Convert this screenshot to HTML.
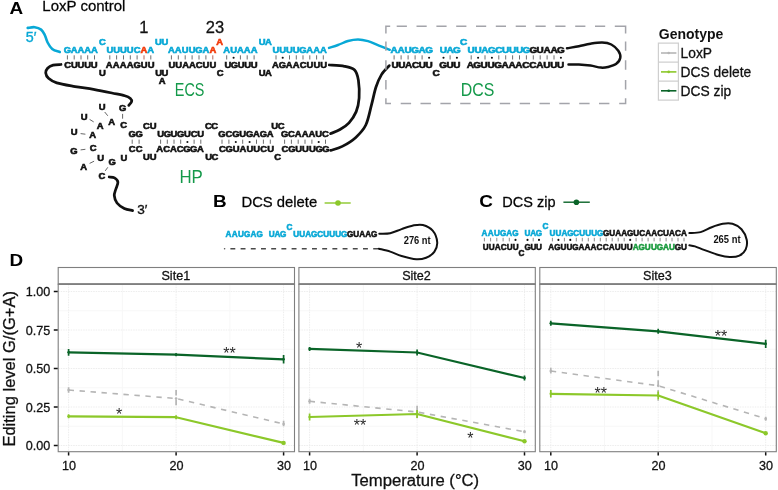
<!DOCTYPE html>
<html lang="en"><head><meta charset="utf-8"><title>LoxP control / DCS editing</title>
<style>
html,body{margin:0;padding:0;background:#fff}
body{width:778px;height:490px;overflow:hidden}
svg{display:block}
text{font-family:"Liberation Sans",Arial,Helvetica,sans-serif}
.k{stroke:#111;stroke-width:.28px}
.s{font-weight:bold;text-anchor:middle}
.b{font-weight:bold}
</style></head><body>
<svg width="778" height="490" viewBox="0 0 778 490">
<rect width="778" height="490" fill="#fff"/>
<text class="b" transform="translate(9.5 14.2) scale(1.1 1)" font-size="17.2">A</text>
<text class="k" x="42.3" y="11.1" font-size="15">LoxP control</text>
<text class="b" transform="translate(213 207.2) scale(1.1 1)" font-size="17.2">B</text>
<text class="k" x="241.5" y="207.2" font-size="14.8">DCS delete</text>
<text class="b" transform="translate(479.3 207.2) scale(1.1 1)" font-size="17.2">C</text>
<text class="k" x="502.3" y="207.2" font-size="14.5">DCS zip</text>
<text class="b" transform="translate(9.5 266.3) scale(1.1 1)" font-size="17.2">D</text>
<text class="k" x="139.2" y="32.6" font-size="16.5" fill="#111">1</text>
<text class="k" x="205.8" y="32.6" font-size="16.5" fill="#111">23</text>
<text x="25.8" y="41.7" font-size="14.3" fill="#08a8d6" stroke="#08a8d6" stroke-width="0.35">5′</text>
<text class="s" transform="scale(1.130 1)" font-size="8.37" fill="#08a8d6" stroke="#08a8d6" stroke-width="0.55" y="52.8" x="59.64 65.64 71.64 77.64 83.64">GAAAA</text>
<path d="M67.4 55.3V59.5M74.2 55.3V59.5M81.0 55.3V59.5M87.7 55.3V59.5M94.5 55.3V59.5" stroke="#6e6e6e" stroke-width="1.0"/>
<text class="s" transform="scale(1.130 1)" font-size="8.37" fill="#111" stroke="#111" stroke-width="0.55" y="68.0" x="59.93 65.81 71.68 77.56 83.43">CUUUU</text>
<text class="s" transform="scale(1.130 1)" font-size="8.37" fill="#08a8d6" stroke="#08a8d6" stroke-width="0.55" y="45.1" x="90.58">C</text>
<text class="s" transform="scale(1.130 1)" font-size="8.37" fill="#111" stroke="#111" stroke-width="0.55" y="75.9" x="90.75">U</text>
<text class="s" transform="scale(1.130 1)" font-size="8.37" stroke-width="0.55" y="52.8"><tspan fill="#08a8d6" stroke="#08a8d6" x="97.18 103.22 109.27 115.31 121.35">UUUUC</tspan><tspan fill="#f23a0a" stroke="#f23a0a" x="127.40">A</tspan><tspan fill="#08a8d6" stroke="#08a8d6" x="133.44">A</tspan></text>
<path d="M144.0 55.3V59.5" stroke="#b5665a" stroke-width="1.0"/>
<path d="M109.8 55.3V59.5M116.6 55.3V59.5M123.5 55.3V59.5M130.3 55.3V59.5M137.1 55.3V59.5M150.8 55.3V59.5" stroke="#6e6e6e" stroke-width="1.0"/>
<text class="s" transform="scale(1.130 1)" font-size="8.37" fill="#111" stroke="#111" stroke-width="0.55" y="68.0" x="96.71 102.88 109.05 115.22 121.39 127.56 133.73">AAAAGUU</text>
<text class="s" transform="scale(1.130 1)" font-size="8.37" fill="#08a8d6" stroke="#08a8d6" stroke-width="0.55" y="45.1" x="140.22 145.97">UU</text>
<text class="s" transform="scale(1.130 1)" font-size="8.37" fill="#111" stroke="#111" stroke-width="0.55" y="75.9" x="140.35 146.02">UU</text>
<text class="s" transform="scale(1.130 1)" font-size="8.37" fill="#111" stroke="#111" stroke-width="0.55" y="83.8" x="143.58">A</text>
<text class="s" transform="scale(1.130 1)" font-size="8.37" stroke-width="0.55" y="52.8"><tspan fill="#08a8d6" stroke="#08a8d6" x="151.64 157.76 163.88 170.00 176.12 182.24">AAUUGA</tspan><tspan fill="#f23a0a" stroke="#f23a0a" x="188.36">A</tspan></text>
<path d="M212.8 55.3V59.5" stroke="#b5665a" stroke-width="1.0"/>
<path d="M171.4 55.3V59.5M178.3 55.3V59.5M185.2 55.3V59.5M192.1 55.3V59.5M199.0 55.3V59.5M205.9 55.3V59.5" stroke="#6e6e6e" stroke-width="1.0"/>
<text class="s" transform="scale(1.130 1)" font-size="8.37" fill="#111" stroke="#111" stroke-width="0.55" y="68.0" x="152.21 158.23 164.25 170.27 176.28 182.30 188.32">UUAACUU</text>
<text class="s" transform="scale(1.130 1)" font-size="8.37" fill="#f23a0a" stroke="#f23a0a" stroke-width="0.55" y="44.7" x="194.38">A</text>
<text class="s" transform="scale(1.130 1)" font-size="8.37" fill="#111" stroke="#111" stroke-width="0.55" y="75.9" x="194.87">C</text>
<text class="s" transform="scale(1.130 1)" font-size="8.37" fill="#08a8d6" stroke="#08a8d6" stroke-width="0.55" y="52.8" x="200.64 206.69 212.74 218.80 224.85">AUAAA</text>
<circle cx="233.6" cy="57.7" r="1.05" fill="#111"/>
<path d="M226.7 55.3V59.5M240.4 55.3V59.5M247.2 55.3V59.5M254.1 55.3V59.5" stroke="#6e6e6e" stroke-width="1.0"/>
<text class="s" transform="scale(1.130 1)" font-size="8.37" fill="#111" stroke="#111" stroke-width="0.55" y="68.0" x="201.75 207.56 213.36 219.17 224.97">UGUUU</text>
<text class="s" transform="scale(1.130 1)" font-size="8.37" fill="#08a8d6" stroke="#08a8d6" stroke-width="0.55" y="45.1" x="231.90 237.48">UA</text>
<text class="s" transform="scale(1.130 1)" font-size="8.37" fill="#111" stroke="#111" stroke-width="0.55" y="75.9" x="231.90 237.48">UA</text>
<text class="s" transform="scale(1.130 1)" font-size="8.37" fill="#08a8d6" stroke="#08a8d6" stroke-width="0.55" y="52.8" x="244.23 250.22 256.20 262.18 268.17 274.15 280.14 286.12">UUUUGAAA</text>
<circle cx="282.7" cy="57.7" r="1.05" fill="#111"/>
<path d="M276.0 55.3V59.5M289.5 55.3V59.5M296.3 55.3V59.5M303.0 55.3V59.5M309.8 55.3V59.5M316.6 55.3V59.5M323.3 55.3V59.5" stroke="#6e6e6e" stroke-width="1.0"/>
<text class="s" transform="scale(1.130 1)" font-size="8.37" fill="#111" stroke="#111" stroke-width="0.55" y="68.0" x="243.76 249.87 255.97 262.08 268.19 274.29 280.40 286.50">AGAACUUU</text>
<text x="174.8" y="95.8" font-size="17.8" fill="#14994a" textLength="29.6" lengthAdjust="spacingAndGlyphs">ECS</text>
<path d="M27.7 27.9C28.9 27.8 32.5 26.9 34.7 27.2C36.9 27.5 39.4 28.3 41.1 29.6C42.8 30.9 43.7 33.0 44.8 35.1C45.9 37.2 46.4 40.2 47.6 42.5C48.8 44.8 50.2 47.3 52.2 48.9C54.2 50.5 58.5 51.5 59.8 52.0" fill="none" stroke="#08a8d6" stroke-width="2.60" stroke-linecap="round" stroke-linejoin="round"/>
<path d="M329.0 47.9C330.5 47.4 334.8 46.1 338.0 45.0C341.2 43.9 344.7 41.9 348.0 41.0C351.3 40.1 354.7 39.5 358.0 39.5C361.3 39.5 364.5 40.2 368.0 41.2C371.5 42.2 375.4 44.2 379.0 45.6C382.6 47.0 388.0 49.1 389.8 49.8" fill="none" stroke="#08a8d6" stroke-width="2.40" stroke-linecap="round" stroke-linejoin="round"/>
<path d="M61.0 64.5C59.7 64.6 55.3 64.5 53.1 65.1C50.9 65.7 48.8 66.9 47.6 68.2C46.4 69.5 45.6 71.1 45.7 72.8C45.9 74.5 46.6 76.6 48.5 78.3C50.4 80.0 52.4 81.5 56.8 82.9C61.2 84.3 69.0 85.5 75.1 86.6C81.2 87.7 87.4 88.2 93.5 89.3C99.6 90.4 106.7 91.9 111.9 93.0C117.1 94.1 121.7 94.9 124.8 95.8C127.9 96.7 129.3 97.6 130.4 98.6C131.5 99.6 131.9 100.5 131.6 101.6C131.3 102.7 129.3 104.8 128.8 105.4" fill="none" stroke="#111" stroke-width="2.75" stroke-linecap="round" stroke-linejoin="round"/>
<path d="M329.3 65.0C331.8 65.2 340.3 65.5 344.5 66.3C348.7 67.1 352.3 67.7 354.6 70.0C356.9 72.3 357.6 75.5 358.4 80.2C359.1 84.9 359.5 92.9 359.1 98.1C358.7 103.3 357.9 107.5 356.2 111.6C354.5 115.7 351.7 119.8 349.0 122.8C346.3 125.8 343.1 127.7 340.0 129.5C336.9 131.3 332.2 132.9 330.6 133.6" fill="none" stroke="#111" stroke-width="2.75" stroke-linecap="round" stroke-linejoin="round"/>
<path d="M389.3 65.6C388.0 67.1 383.7 71.0 381.5 74.6C379.3 78.2 377.7 82.0 376.0 87.0C374.3 92.0 373.2 98.6 371.5 104.9C369.8 111.2 368.4 119.6 365.8 125.0C363.2 130.4 359.7 133.8 355.8 137.4C351.9 141.0 346.5 144.2 342.3 146.4C338.1 148.6 332.6 149.7 330.6 150.4" fill="none" stroke="#111" stroke-width="2.75" stroke-linecap="round" stroke-linejoin="round"/>
<text class="s" transform="scale(1.130 1)" font-size="8.37" fill="#111" stroke="#111" stroke-width="0.55" y="137.3" x="117.01 123.08">GG</text>
<path d="M132.2 139.6V143.8M139.1 139.6V143.8" stroke="#6e6e6e" stroke-width="1.0"/>
<text class="s" transform="scale(1.130 1)" font-size="8.37" fill="#111" stroke="#111" stroke-width="0.55" y="152.4" x="117.01 123.08">CC</text>
<text class="s" transform="scale(1.130 1)" font-size="8.37" fill="#111" stroke="#111" stroke-width="0.55" y="129.3" x="129.49 135.55">CU</text>
<text class="s" transform="scale(1.130 1)" font-size="8.37" fill="#111" stroke="#111" stroke-width="0.55" y="160.3" x="129.69 135.44">UU</text>
<text class="s" transform="scale(1.130 1)" font-size="8.37" fill="#111" stroke="#111" stroke-width="0.55" y="137.3" x="142.16 148.08 153.99 159.91 165.83 171.74 177.66">UGUGUCU</text>
<circle cx="187.4" cy="142.0" r="1.05" fill="#111"/>
<path d="M160.6 139.6V143.8M167.3 139.6V143.8M174.0 139.6V143.8M180.7 139.6V143.8M194.1 139.6V143.8M200.8 139.6V143.8" stroke="#6e6e6e" stroke-width="1.0"/>
<text class="s" transform="scale(1.130 1)" font-size="8.37" fill="#111" stroke="#111" stroke-width="0.55" y="152.4" x="141.40 147.40 153.39 159.38 165.37 171.37 177.36">ACACGGA</text>
<text class="s" transform="scale(1.130 1)" font-size="8.37" fill="#111" stroke="#111" stroke-width="0.55" y="129.3" x="184.40 190.02">CC</text>
<text class="s" transform="scale(1.130 1)" font-size="8.37" fill="#111" stroke="#111" stroke-width="0.55" y="160.3" x="184.67 190.11">UC</text>
<text class="s" transform="scale(1.130 1)" font-size="8.37" fill="#111" stroke="#111" stroke-width="0.55" y="137.3" x="196.50 202.59 208.69 214.78 220.88 226.97 233.07 239.16">GCGUGAGA</text>
<circle cx="235.8" cy="142.0" r="1.05" fill="#111"/>
<circle cx="249.6" cy="142.0" r="1.05" fill="#111"/>
<path d="M222.0 139.6V143.8M228.9 139.6V143.8M242.7 139.6V143.8M256.5 139.6V143.8M263.4 139.6V143.8M270.3 139.6V143.8" stroke="#6e6e6e" stroke-width="1.0"/>
<text class="s" transform="scale(1.130 1)" font-size="8.37" fill="#111" stroke="#111" stroke-width="0.55" y="152.4" x="196.76 202.86 208.95 215.05 221.14 227.24 233.34 239.43">CGUAUUCU</text>
<text class="s" transform="scale(1.130 1)" font-size="8.37" fill="#111" stroke="#111" stroke-width="0.55" y="129.3" x="242.99 248.78">UC</text>
<text class="s" transform="scale(1.130 1)" font-size="8.37" fill="#111" stroke="#111" stroke-width="0.55" y="160.3" x="245.75">C</text>
<text class="s" transform="scale(1.130 1)" font-size="8.37" fill="#111" stroke="#111" stroke-width="0.55" y="137.3" x="251.86 257.90 263.93 269.96 275.99 282.02 288.05">GCAAAUC</text>
<circle cx="318.7" cy="142.0" r="1.05" fill="#111"/>
<path d="M284.6 139.6V143.8M291.4 139.6V143.8M298.2 139.6V143.8M305.0 139.6V143.8M311.9 139.6V143.8M325.5 139.6V143.8" stroke="#6e6e6e" stroke-width="1.0"/>
<text class="s" transform="scale(1.130 1)" font-size="8.37" fill="#111" stroke="#111" stroke-width="0.55" y="152.4" x="252.23 258.27 264.31 270.35 276.40 282.44 288.48">CGUUUGG</text>
<text class="s" transform="scale(1.130 1)" font-size="8.37" fill="#111" stroke="#111" stroke-width="0.55" y="110.1" x="90.44">U</text>
<text class="s" transform="scale(1.130 1)" font-size="8.37" fill="#111" stroke="#111" stroke-width="0.55" y="110.6" x="108.50">G</text>
<text class="s" transform="scale(1.130 1)" font-size="8.37" fill="#111" stroke="#111" stroke-width="0.55" y="119.7" x="74.51">U</text>
<text class="s" transform="scale(1.130 1)" font-size="8.37" fill="#111" stroke="#111" stroke-width="0.55" y="128.6" x="88.58">A</text>
<text class="s" transform="scale(1.130 1)" font-size="8.37" fill="#111" stroke="#111" stroke-width="0.55" y="124.7" x="98.76">A</text>
<text class="s" transform="scale(1.130 1)" font-size="8.37" fill="#111" stroke="#111" stroke-width="0.55" y="128.5" x="109.38">C</text>
<text class="s" transform="scale(1.130 1)" font-size="8.37" fill="#111" stroke="#111" stroke-width="0.55" y="135.5" x="65.75">U</text>
<text class="s" transform="scale(1.130 1)" font-size="8.37" fill="#111" stroke="#111" stroke-width="0.55" y="138.2" x="82.12">A</text>
<text class="s" transform="scale(1.130 1)" font-size="8.37" fill="#111" stroke="#111" stroke-width="0.55" y="154.2" x="65.49">G</text>
<text class="s" transform="scale(1.130 1)" font-size="8.37" fill="#111" stroke="#111" stroke-width="0.55" y="151.4" x="82.57">C</text>
<text class="s" transform="scale(1.130 1)" font-size="8.37" fill="#111" stroke="#111" stroke-width="0.55" y="161.5" x="89.03">U</text>
<text class="s" transform="scale(1.130 1)" font-size="8.37" fill="#111" stroke="#111" stroke-width="0.55" y="170.3" x="74.07">A</text>
<text class="s" transform="scale(1.130 1)" font-size="8.37" fill="#111" stroke="#111" stroke-width="0.55" y="165.4" x="99.29">G</text>
<text class="s" transform="scale(1.130 1)" font-size="8.37" fill="#111" stroke="#111" stroke-width="0.55" y="161.5" x="109.56">U</text>
<text class="s" transform="scale(1.130 1)" font-size="8.37" fill="#111" stroke="#111" stroke-width="0.55" y="178.8" x="90.27">C</text>
<path d="M104.7 112L107.8 115.8M122.6 113.9V118.7M89.6 119.4L93.7 121.9M80.6 133.6L85.4 134.2M80.6 149.9L85.4 149.3M89.6 163.4L94.1 161.2M105.2 170.9L107.8 167.3" stroke="#555" stroke-width="0.9" fill="none"/>
<path d="M109.2 177.0C110.1 177.2 113.0 177.0 114.5 177.9C116.0 178.8 117.7 180.3 117.9 182.2C118.1 184.1 116.3 187.3 115.7 189.5C115.1 191.7 114.1 193.3 114.3 195.6C114.5 197.8 115.3 200.8 117.0 203.0C118.7 205.2 121.7 207.2 124.3 208.5C126.9 209.8 131.2 210.2 132.6 210.6" fill="none" stroke="#111" stroke-width="2.75" stroke-linecap="round" stroke-linejoin="round"/>
<text x="137.3" y="213.9" font-size="13.6" fill="#111" stroke="#111" stroke-width="0.35">3′</text>
<text x="179.4" y="183.2" font-size="17.8" fill="#14994a" textLength="23.4" lengthAdjust="spacingAndGlyphs">HP</text>
<text class="s" transform="scale(1.130 1)" font-size="8.84" fill="#08a8d6" stroke="#08a8d6" stroke-width="0.58" y="53.2" x="348.76 354.96 361.15 367.35 373.54 379.73">AAUGAG</text>
<circle cx="429.1" cy="57.7" r="1.05" fill="#111"/>
<path d="M394.1 55.3V59.5M401.1 55.3V59.5M408.1 55.3V59.5M415.1 55.3V59.5M422.1 55.3V59.5" stroke="#6e6e6e" stroke-width="1.0"/>
<text class="s" transform="scale(1.130 1)" font-size="8.84" fill="#111" stroke="#111" stroke-width="0.58" y="68.3" x="349.57 355.62 361.67 367.71 373.76 379.81">UUACUU</text>
<text class="s" transform="scale(1.130 1)" font-size="8.84" fill="#111" stroke="#111" stroke-width="0.58" y="76.0" x="386.02">C</text>
<text class="s" transform="scale(1.130 1)" font-size="8.84" fill="#08a8d6" stroke="#08a8d6" stroke-width="0.58" y="53.2" x="392.43 398.36 404.29">UAG</text>
<circle cx="443.5" cy="57.7" r="1.05" fill="#111"/>
<circle cx="456.9" cy="57.7" r="1.05" fill="#111"/>
<path d="M450.1 55.3V59.5" stroke="#6e6e6e" stroke-width="1.0"/>
<text class="s" transform="scale(1.130 1)" font-size="8.84" fill="#111" stroke="#111" stroke-width="0.58" y="68.3" x="392.21 398.23 404.25">GUU</text>
<text class="s" transform="scale(1.130 1)" font-size="8.84" fill="#08a8d6" stroke="#08a8d6" stroke-width="0.58" y="45.4" x="410.35">C</text>
<text class="s" transform="scale(1.130 1)" font-size="8.84" stroke-width="0.58" y="53.2"><tspan fill="#08a8d6" stroke="#08a8d6" x="416.95 423.06 429.18 435.29 441.40 447.51 453.63 459.74 465.85">UUAGCUUUG</tspan><tspan fill="#111" stroke="#111" x="471.96 478.08 484.19 490.30 496.41">GUAAG</tspan></text>
<circle cx="478.1" cy="57.7" r="1.05" fill="#111"/>
<circle cx="491.9" cy="57.7" r="1.05" fill="#111"/>
<circle cx="560.9" cy="57.7" r="1.05" fill="#111"/>
<path d="M471.2 55.3V59.5M485.0 55.3V59.5M498.8 55.3V59.5M505.7 55.3V59.5M512.6 55.3V59.5M519.5 55.3V59.5M526.4 55.3V59.5M533.3 55.3V59.5M540.2 55.3V59.5M547.1 55.3V59.5M554.0 55.3V59.5" stroke="#6e6e6e" stroke-width="1.0"/>
<text class="s" transform="scale(1.130 1)" font-size="8.84" fill="#111" stroke="#111" stroke-width="0.58" y="68.3" x="416.18 422.33 428.49 434.65 440.80 446.96 453.12 459.27 465.43 471.59 477.74 483.90 490.06 496.21">AGUUGAAACCAUUU</text>
<text x="460.8" y="95.8" font-size="17.8" fill="#14994a" textLength="33.6" lengthAdjust="spacingAndGlyphs">DCS</text>
<path d="M567.0 48.3C569.0 47.9 575.0 47.0 578.9 46.2C582.8 45.4 586.6 44.3 590.5 43.7C594.4 43.1 598.6 42.4 602.1 42.5C605.6 42.6 608.6 43.1 611.3 44.5C614.0 45.9 616.8 48.6 618.3 50.8C619.8 53.0 620.7 55.6 620.3 57.8C619.9 60.0 618.1 62.6 616.0 64.1C613.9 65.6 610.4 66.4 607.9 67.0C605.4 67.6 603.8 67.8 600.9 67.6C598.0 67.4 594.2 66.1 590.5 65.6C586.8 65.1 582.6 64.7 578.9 64.5C575.2 64.3 570.2 64.5 568.5 64.5" fill="none" stroke="#111" stroke-width="2.50" stroke-linecap="round" stroke-linejoin="round"/>
<path d="M396.7 26.2H406.9M400.7 103.6H411.1M416.5 26.2H426.7M420.5 103.6H430.9M436.4 26.2H446.6M440.4 103.6H450.8M456.2 26.2H466.4M460.2 103.6H470.6M476.0 26.2H486.2M480.0 103.6H490.4M495.8 26.2H506.0M499.8 103.6H510.2M515.7 26.2H525.9M519.7 103.6H530.1M535.5 26.2H545.7M539.5 103.6H549.9M555.3 26.2H565.5M559.3 103.6H569.7M575.2 26.2H585.4M579.2 103.6H589.6M595.0 26.2H605.2M599.0 103.6H609.4M385.9 33.4V26.2H390.2M614.8 26.2H625.6V33.4M385.9 98.3V103.6H391M619.2 103.6H625.6V98.3M385.9 41.5V50.7M625.6 41.5V50.7M385.9 60.3V69.7M625.6 60.3V69.7M385.9 79.9V89.5M625.6 79.9V89.5" fill="none" stroke="#a3a4aa" stroke-width="1.5"/>
<path d="M324.6 203H350.7" stroke="#8cc82a" stroke-width="1.4"/><circle cx="338" cy="203" r="2.8" fill="#8cc82a"/>
<text class="s" transform="scale(1.000 1)" font-size="8.18" fill="#08a8d6" stroke="#08a8d6" stroke-width="0.54" y="237.3" x="228.51 234.72 240.94 247.16 253.38 259.59">AAUGAG</text>
<text class="s" transform="scale(1.000 1)" font-size="8.18" fill="#08a8d6" stroke="#08a8d6" stroke-width="0.54" y="237.3" x="271.58 277.35 283.12">UAG</text>
<text class="s" transform="scale(1.000 1)" font-size="8.18" fill="#08a8d6" stroke="#08a8d6" stroke-width="0.54" y="230.0" x="289.35">C</text>
<text class="s" transform="scale(1.000 1)" font-size="8.18" stroke-width="0.54" y="237.3"><tspan fill="#08a8d6" stroke="#08a8d6" x="296.20 302.20 308.20 314.20 320.20 326.20 332.20 338.20 344.20">UUAGCUUUG</tspan><tspan fill="#111" stroke="#111" x="350.20 356.20 362.20 368.20 374.20">GUAAG</tspan></text>
<circle cx="224.6" cy="248.7" r="0.8" fill="#555"/>
<path d="M230.4 248.7H378.5" stroke="#4a4a4a" stroke-width="1.6" stroke-dasharray="4.9 5.3"/>
<path d="M379.3 233.7C381.1 233.6 386.5 234.0 390.2 233.2C393.9 232.4 397.8 230.4 401.6 229.1C405.4 227.8 409.6 226.2 413.1 225.5C416.7 224.8 419.6 224.1 422.9 225.0C426.2 225.9 430.3 227.8 432.7 230.7C435.1 233.5 436.9 238.6 437.2 242.1C437.5 245.6 436.1 249.3 434.3 251.9C432.5 254.5 429.1 256.5 426.1 257.7C423.1 258.9 420.4 259.6 416.3 259.3C412.2 259.0 406.0 257.3 401.6 256.0C397.2 254.7 394.0 252.8 390.2 251.6C386.4 250.4 380.7 249.2 378.8 248.7" fill="none" stroke="#111" stroke-width="2.00" stroke-linecap="round" stroke-linejoin="round"/>
<text class="b" x="403.7" y="244.2" font-size="10.6" fill="#111" textLength="27" lengthAdjust="spacingAndGlyphs">276 nt</text>
<path d="M563.4 202.2H589.8" stroke="#0a6428" stroke-width="1.4"/><circle cx="576.4" cy="202.2" r="2.8" fill="#0a6428"/>
<text class="s" transform="scale(1.000 1)" font-size="8.18" fill="#08a8d6" stroke="#08a8d6" stroke-width="0.54" y="236.2" x="484.41 490.62 496.84 503.06 509.28 515.49">AAUGAG</text>
<circle cx="515.5" cy="239.9" r="1.05" fill="#111"/>
<path d="M484.4 237.8V241.4M490.6 237.8V241.4M496.8 237.8V241.4M503.1 237.8V241.4M509.3 237.8V241.4" stroke="#6e6e6e" stroke-width="0.8"/>
<text class="s" transform="scale(1.000 1)" font-size="8.18" fill="#111" stroke="#111" stroke-width="0.54" y="249.6" x="485.60 491.60 497.60 503.60 509.60 515.60">UUACUU</text>
<text class="s" transform="scale(1.000 1)" font-size="8.18" fill="#111" stroke="#111" stroke-width="0.54" y="256.1" x="521.50">C</text>
<text class="s" transform="scale(1.000 1)" font-size="8.18" fill="#08a8d6" stroke="#08a8d6" stroke-width="0.54" y="236.2" x="527.48 533.25 539.02">UAG</text>
<circle cx="527.5" cy="239.9" r="1.05" fill="#111"/>
<circle cx="539.0" cy="239.9" r="1.05" fill="#111"/>
<path d="M533.2 237.8V241.4" stroke="#6e6e6e" stroke-width="0.8"/>
<text class="s" transform="scale(1.000 1)" font-size="8.18" fill="#111" stroke="#111" stroke-width="0.54" y="249.6" x="527.73 533.40 539.07">GUU</text>
<text class="s" transform="scale(1.000 1)" font-size="8.18" fill="#08a8d6" stroke="#08a8d6" stroke-width="0.54" y="229.0" x="545.50">C</text>
<text class="s" transform="scale(1.000 1)" font-size="8.18" stroke-width="0.54" y="236.2"><tspan fill="#08a8d6" stroke="#08a8d6" x="552.39 558.37 564.36 570.34 576.32 582.30 588.29 594.27 600.25">UUAGCUUUG</tspan><tspan fill="#111" stroke="#111" x="606.23 612.22 618.20 624.18 630.17 636.15 642.13 648.11 654.10 660.08 666.06 672.04 678.03 684.01">GUAAGUCAACUACA</tspan></text>
<circle cx="558.4" cy="239.9" r="1.05" fill="#111"/>
<circle cx="570.3" cy="239.9" r="1.05" fill="#111"/>
<circle cx="630.2" cy="239.9" r="1.05" fill="#111"/>
<path d="M552.4 237.8V241.4M564.4 237.8V241.4M576.3 237.8V241.4M582.3 237.8V241.4M588.3 237.8V241.4M594.3 237.8V241.4M600.3 237.8V241.4M606.2 237.8V241.4M612.2 237.8V241.4M618.2 237.8V241.4M624.2 237.8V241.4M636.1 237.8V241.4M642.1 237.8V241.4M648.1 237.8V241.4M654.1 237.8V241.4M660.1 237.8V241.4M666.1 237.8V241.4M672.0 237.8V241.4M678.0 237.8V241.4M684.0 237.8V241.4" stroke="#6e6e6e" stroke-width="0.8"/>
<text class="s" transform="scale(1.000 1)" font-size="8.18" stroke-width="0.54" y="249.6"><tspan fill="#111" stroke="#111" x="551.32 557.35 563.38 569.41 575.44 581.47 587.50 593.53 599.56 605.59 611.62 617.65 623.68 629.71">AGUUGAAACCAUUU</tspan><tspan fill="#1a9a3e" stroke="#1a9a3e" x="635.74 641.77 647.80 653.83 659.86 665.89 671.92">AGUUGAU</tspan><tspan fill="#111" stroke="#111" x="677.95 683.98">GU</tspan></text>
<path d="M689.4 233.1C691.3 232.9 696.9 233.1 700.6 232.1C704.3 231.1 708.0 228.6 711.7 227.2C715.4 225.8 719.3 224.4 722.8 223.8C726.3 223.2 729.4 222.9 732.5 223.8C735.6 224.7 739.1 226.7 741.5 229.3C743.9 232.0 746.0 236.3 746.7 239.7C747.4 243.0 746.9 246.7 745.7 249.4C744.5 252.1 742.1 254.4 739.4 255.7C736.7 257.0 733.2 257.2 729.7 257.1C726.2 257.0 722.8 256.2 718.6 255.0C714.4 253.8 708.6 251.5 704.7 250.1C700.8 248.7 697.5 247.2 695.0 246.4C692.5 245.6 690.3 245.5 689.4 245.3" fill="none" stroke="#111" stroke-width="2.00" stroke-linecap="round" stroke-linejoin="round"/>
<text class="b" x="713.4" y="242.9" font-size="10.6" fill="#111" textLength="27.2" lengthAdjust="spacingAndGlyphs">265 nt</text>
<text class="b" x="658.8" y="38.8" font-size="14" fill="#111">Genotype</text>
<path d="M658.4 43.2H678.4V100.2H658.4ZM658.4 62.2H678.4M658.4 81.2H678.4" fill="#fff" stroke="#cfcfcf" stroke-width="1.2"/>
<path d="M661 53.0H676.4" stroke="#b5b5b5" stroke-width="1.6"/><circle cx="668.7" cy="53.0" r="1.3" fill="#b5b5b5"/>
<text class="k" x="680.6" y="57.9" font-size="13.8" fill="#111">LoxP</text>
<path d="M661 71.9H676.4" stroke="#8cc82a" stroke-width="1.6"/><circle cx="668.7" cy="71.9" r="1.3" fill="#8cc82a"/>
<text class="k" x="680.6" y="76.8" font-size="13.8" fill="#111">DCS delete</text>
<path d="M661 90.8H676.4" stroke="#0a6428" stroke-width="1.6"/><circle cx="668.7" cy="90.8" r="1.3" fill="#0a6428"/>
<text class="k" x="680.6" y="95.7" font-size="13.8" fill="#111">DCS zip</text>
<rect x="58.2" y="284.2" width="236.3" height="167.5" fill="#fff"/>
<path d="M58.2 426.2H294.5M58.2 387.8H294.5M58.2 349.2H294.5M58.2 310.8H294.5M122.3 284.2V451.7M229.9 284.2V451.7" stroke="#f7f7f7" stroke-width="1"/>
<path d="M58.2 445.5H294.5M58.2 407.0H294.5M58.2 368.5H294.5M58.2 330.0H294.5M58.2 291.5H294.5M68.6 284.2V451.7M176.1 284.2V451.7M283.6 284.2V451.7" stroke="#ededed" stroke-width="1" stroke-dasharray="1.5 1"/>
<path d="M68.6 390.0L176.1 398.5L283.6 424.0" fill="none" stroke="#b5b5b5" stroke-width="1.6" stroke-dasharray="5.4 5.6" stroke-linejoin="round"/>
<path d="M68.6 387.3V392.7M176.1 390.0V407.0M283.6 420.7V427.3" stroke="#b5b5b5" stroke-width="1.7" stroke-dasharray="5.6 4"/>
<circle cx="68.6" cy="390.0" r="1.3" fill="#b5b5b5"/>
<circle cx="176.1" cy="398.5" r="1.3" fill="#b5b5b5"/>
<circle cx="283.6" cy="424.0" r="1.3" fill="#b5b5b5"/>
<path d="M68.6 416.3L176.1 417.2L283.6 442.9" fill="none" stroke="#8cc82a" stroke-width="2.2" stroke-linejoin="round"/>
<path d="M68.6 414.3V418.3M176.1 415.2V419.2" stroke="#8cc82a" stroke-width="1.7"/>
<circle cx="68.6" cy="416.3" r="1.3" fill="#8cc82a"/>
<circle cx="176.1" cy="417.2" r="1.3" fill="#8cc82a"/>
<circle cx="283.6" cy="442.9" r="2.2" fill="#8cc82a"/>
<path d="M68.6 352.3L176.1 354.7L283.6 359.3" fill="none" stroke="#0a6428" stroke-width="2.2" stroke-linejoin="round"/>
<path d="M68.6 348.9V355.7M176.1 353.2V356.2M283.6 355.0V363.6" stroke="#0a6428" stroke-width="1.7"/>
<circle cx="68.6" cy="352.3" r="1.3" fill="#0a6428"/>
<circle cx="176.1" cy="354.7" r="1.3" fill="#0a6428"/>
<circle cx="283.6" cy="359.3" r="1.3" fill="#0a6428"/>
<text x="119.1" y="420.4" font-size="16" fill="#2a2a2a" text-anchor="middle">*</text>
<text x="229.4" y="359.0" font-size="16" fill="#2a2a2a" text-anchor="middle">**</text>
<rect x="58.2" y="267.5" width="236.3" height="16.7" fill="#fff" stroke="#7f7f7f" stroke-width="1.1"/>
<rect x="58.2" y="284.2" width="236.3" height="167.5" fill="none" stroke="#7f7f7f" stroke-width="1.1"/>
<path d="M58.2 284.2H294.5" stroke="#7f7f7f" stroke-width="1.8"/>
<text class="k" x="175.8" y="280.2" font-size="12.6" fill="#111" text-anchor="middle">Site1</text>
<path d="M68.6 452.2V455.5M176.1 452.2V455.5M283.6 452.2V455.5" stroke="#111" stroke-width="1.5"/>
<text class="k" x="68.9" y="470.1" font-size="12.6" fill="#111" text-anchor="middle">10</text>
<text class="k" x="176.4" y="470.1" font-size="12.6" fill="#111" text-anchor="middle">20</text>
<text class="k" x="283.9" y="470.1" font-size="12.6" fill="#111" text-anchor="middle">30</text>
<rect x="298.9" y="284.2" width="236.4" height="167.5" fill="#fff"/>
<path d="M298.9 426.2H535.3M298.9 387.8H535.3M298.9 349.2H535.3M298.9 310.8H535.3M363.3 284.2V451.7M470.8 284.2V451.7" stroke="#f7f7f7" stroke-width="1"/>
<path d="M298.9 445.5H535.3M298.9 407.0H535.3M298.9 368.5H535.3M298.9 330.0H535.3M298.9 291.5H535.3M309.6 284.2V451.7M417.1 284.2V451.7M524.5 284.2V451.7" stroke="#ededed" stroke-width="1" stroke-dasharray="1.5 1"/>
<path d="M309.6 401.3L417.1 412.0L524.5 431.8" fill="none" stroke="#b5b5b5" stroke-width="1.6" stroke-dasharray="5.4 5.6" stroke-linejoin="round"/>
<path d="M309.6 398.8V403.8M417.1 405.7V418.3M524.5 430.3V433.3" stroke="#b5b5b5" stroke-width="1.7" stroke-dasharray="5.6 4"/>
<circle cx="309.6" cy="401.3" r="1.3" fill="#b5b5b5"/>
<circle cx="417.1" cy="412.0" r="1.3" fill="#b5b5b5"/>
<circle cx="524.5" cy="431.8" r="1.3" fill="#b5b5b5"/>
<path d="M309.6 417.0L417.1 414.0L524.5 441.2" fill="none" stroke="#8cc82a" stroke-width="2.2" stroke-linejoin="round"/>
<path d="M309.6 413.5V420.5M417.1 410.0V418.0" stroke="#8cc82a" stroke-width="1.7"/>
<circle cx="309.6" cy="417.0" r="1.3" fill="#8cc82a"/>
<circle cx="417.1" cy="414.0" r="1.3" fill="#8cc82a"/>
<circle cx="524.5" cy="441.2" r="2.2" fill="#8cc82a"/>
<path d="M309.6 348.9L417.1 352.5L524.5 378.0" fill="none" stroke="#0a6428" stroke-width="2.2" stroke-linejoin="round"/>
<path d="M309.6 346.9V350.9M417.1 349.5V355.5M524.5 375.5V380.5" stroke="#0a6428" stroke-width="1.7"/>
<circle cx="309.6" cy="348.9" r="1.3" fill="#0a6428"/>
<circle cx="417.1" cy="352.5" r="1.3" fill="#0a6428"/>
<circle cx="524.5" cy="378.0" r="1.3" fill="#0a6428"/>
<text x="359.2" y="353.7" font-size="16" fill="#2a2a2a" text-anchor="middle">*</text>
<text x="360.1" y="431.2" font-size="16" fill="#2a2a2a" text-anchor="middle">**</text>
<text x="470.3" y="444.1" font-size="16" fill="#2a2a2a" text-anchor="middle">*</text>
<rect x="298.9" y="267.5" width="236.4" height="16.7" fill="#fff" stroke="#7f7f7f" stroke-width="1.1"/>
<rect x="298.9" y="284.2" width="236.4" height="167.5" fill="none" stroke="#7f7f7f" stroke-width="1.1"/>
<path d="M298.9 284.2H535.3" stroke="#7f7f7f" stroke-width="1.8"/>
<text class="k" x="416.5" y="280.2" font-size="12.6" fill="#111" text-anchor="middle">Site2</text>
<path d="M309.6 452.2V455.5M417.1 452.2V455.5M524.5 452.2V455.5" stroke="#111" stroke-width="1.5"/>
<text class="k" x="309.9" y="470.1" font-size="12.6" fill="#111" text-anchor="middle">10</text>
<text class="k" x="417.4" y="470.1" font-size="12.6" fill="#111" text-anchor="middle">20</text>
<text class="k" x="524.8" y="470.1" font-size="12.6" fill="#111" text-anchor="middle">30</text>
<rect x="539.8" y="284.2" width="236.5" height="167.5" fill="#fff"/>
<path d="M539.8 426.2H776.3M539.8 387.8H776.3M539.8 349.2H776.3M539.8 310.8H776.3M604.5 284.2V451.7M712.0 284.2V451.7" stroke="#f7f7f7" stroke-width="1"/>
<path d="M539.8 445.5H776.3M539.8 407.0H776.3M539.8 368.5H776.3M539.8 330.0H776.3M539.8 291.5H776.3M550.8 284.2V451.7M658.2 284.2V451.7M765.7 284.2V451.7" stroke="#ededed" stroke-width="1" stroke-dasharray="1.5 1"/>
<path d="M550.8 371.0L658.2 385.7L765.7 418.7" fill="none" stroke="#b5b5b5" stroke-width="1.6" stroke-dasharray="5.4 5.6" stroke-linejoin="round"/>
<path d="M550.8 367.8V374.2M658.2 370.7V400.7M765.7 416.7V420.7" stroke="#b5b5b5" stroke-width="1.7" stroke-dasharray="5.6 4"/>
<circle cx="550.8" cy="371.0" r="1.3" fill="#b5b5b5"/>
<circle cx="658.2" cy="385.7" r="1.3" fill="#b5b5b5"/>
<circle cx="765.7" cy="418.7" r="1.3" fill="#b5b5b5"/>
<path d="M550.8 393.8L658.2 395.5L765.7 433.2" fill="none" stroke="#8cc82a" stroke-width="2.2" stroke-linejoin="round"/>
<path d="M550.8 390.0V397.6M658.2 391.5V399.5" stroke="#8cc82a" stroke-width="1.7"/>
<circle cx="550.8" cy="393.8" r="1.3" fill="#8cc82a"/>
<circle cx="658.2" cy="395.5" r="1.3" fill="#8cc82a"/>
<circle cx="765.7" cy="433.2" r="2.2" fill="#8cc82a"/>
<path d="M550.8 323.3L658.2 331.3L765.7 343.8" fill="none" stroke="#0a6428" stroke-width="2.2" stroke-linejoin="round"/>
<path d="M550.8 320.8V325.8M658.2 328.8V333.8M765.7 339.7V347.9" stroke="#0a6428" stroke-width="1.7"/>
<circle cx="550.8" cy="323.3" r="1.3" fill="#0a6428"/>
<circle cx="658.2" cy="331.3" r="1.3" fill="#0a6428"/>
<circle cx="765.7" cy="343.8" r="1.3" fill="#0a6428"/>
<text x="600.7" y="399.1" font-size="16" fill="#2a2a2a" text-anchor="middle">**</text>
<text x="721.1" y="342.4" font-size="16" fill="#2a2a2a" text-anchor="middle">**</text>
<rect x="539.8" y="267.5" width="236.5" height="16.7" fill="#fff" stroke="#7f7f7f" stroke-width="1.1"/>
<rect x="539.8" y="284.2" width="236.5" height="167.5" fill="none" stroke="#7f7f7f" stroke-width="1.1"/>
<path d="M539.8 284.2H776.3" stroke="#7f7f7f" stroke-width="1.8"/>
<text class="k" x="657.4" y="280.2" font-size="12.6" fill="#111" text-anchor="middle">Site3</text>
<path d="M550.8 452.2V455.5M658.2 452.2V455.5M765.7 452.2V455.5" stroke="#111" stroke-width="1.5"/>
<text class="k" x="551.1" y="470.1" font-size="12.6" fill="#111" text-anchor="middle">10</text>
<text class="k" x="658.5" y="470.1" font-size="12.6" fill="#111" text-anchor="middle">20</text>
<text class="k" x="766.0" y="470.1" font-size="12.6" fill="#111" text-anchor="middle">30</text>
<path d="M53.8 445.5H57.7M53.8 407.0H57.7M53.8 368.5H57.7M53.8 330.0H57.7M53.8 291.5H57.7" stroke="#111" stroke-width="1.5"/>
<text class="k" x="50.3" y="450.0" font-size="12.6" fill="#111" text-anchor="end">0.00</text>
<text class="k" x="50.3" y="411.5" font-size="12.6" fill="#111" text-anchor="end">0.25</text>
<text class="k" x="50.3" y="373.0" font-size="12.6" fill="#111" text-anchor="end">0.50</text>
<text class="k" x="50.3" y="334.5" font-size="12.6" fill="#111" text-anchor="end">0.75</text>
<text class="k" x="50.3" y="296.0" font-size="12.6" fill="#111" text-anchor="end">1.00</text>
<text class="k" transform="translate(14.6 446.6) rotate(-90)" font-size="15.8" fill="#111" textLength="155.6" lengthAdjust="spacingAndGlyphs">Editing level G/(G+A)</text>
<text class="k" x="351.2" y="485.5" font-size="15.8" fill="#111" textLength="128" lengthAdjust="spacingAndGlyphs">Temperature (°C)</text>
</svg></body></html>
